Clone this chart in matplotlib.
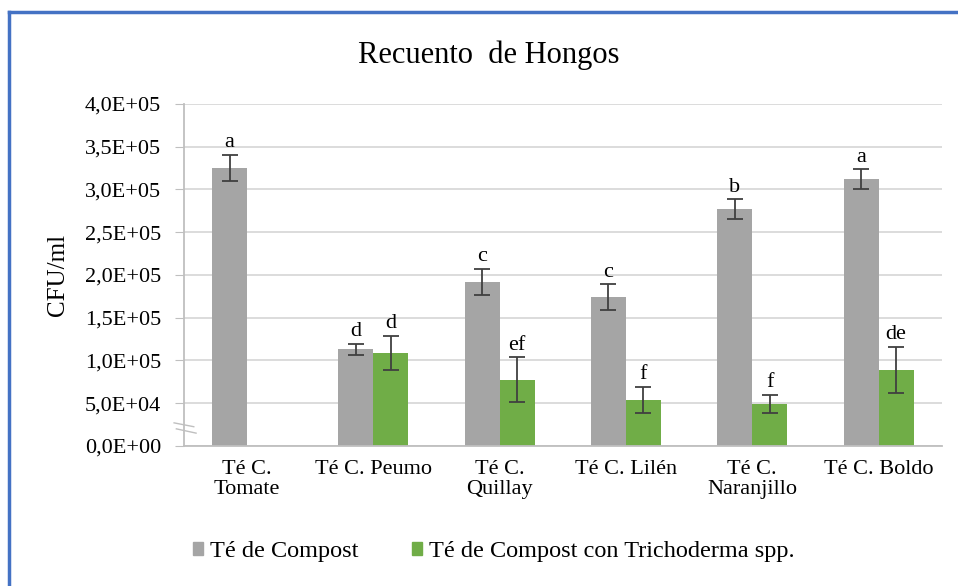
import numpy as np
import matplotlib
matplotlib.use("Agg")
import matplotlib.pyplot as plt
from matplotlib.patches import Rectangle

# data
categories = ["Té C.\nTomate", "Té C. Peumo", "Té C.\nQuillay", "Té C. Lilén",
              "Té C.\nNaranjillo", "Té C. Boldo"]
compost = [325500, 113000, 192000, 174000, 277000, 312000]
compost_err = [15000, 6500, 15000, 15000, 11500, 11500]
tricho = [np.nan, 108500, 77500, 54000, 49000, 89000]
tricho_err = [np.nan, 20000, 26000, 15000, 10500, 26500]
compost_letters = ["a", "d", "c", "c", "b", "a"]
tricho_letters = ["", "d", "ef", "f", "f", "de"]
yticks = np.arange(0, 400001, 50000)

plt.rcParams['font.family'] = ['Liberation Serif', 'DejaVu Serif']

fig = plt.figure(figsize=(9.58, 5.86), dpi=100)
ax = fig.add_axes([0.192, 0.239, 0.791, 0.5835])

x = np.arange(len(categories))
w = 0.277
gray = "#A5A5A5"
green = "#70AD47"

ax.bar(x - w / 2, compost, w, color=gray, zorder=2)
ax.bar(x + w / 2, tricho, w, color=green, zorder=2)
ekw = dict(fmt="none", ecolor="#404040", elinewidth=1.3, capsize=6, capthick=1.3, zorder=3)
ax.errorbar(x - w / 2, compost, yerr=compost_err, **ekw)
ax.errorbar(x + w / 2, tricho, yerr=tricho_err, **ekw)

for xi, v, e, lab in zip(x - w / 2, compost, compost_err, compost_letters):
    ax.annotate(lab, (xi, v + e), xytext=(0, 2), textcoords="offset points",
                ha="center", va="bottom", fontsize=16)
for xi, v, e, lab in zip(x + w / 2, tricho, tricho_err, tricho_letters):
    if lab:
        ax.annotate(lab, (xi, v + e), xytext=(0, 2), textcoords="offset points",
                    ha="center", va="bottom", fontsize=16)

ax.set_xlim(-0.5, len(categories) - 0.5)
ax.set_ylim(0, 400000)
ax.set_yticks(yticks)
ax.set_yticklabels([f"{v:.1E}".replace(".", ",") for v in yticks], fontsize=16)
ax.set_xticks(x)
ax.set_xticklabels(categories, fontsize=16, linespacing=1.1)
ax.tick_params(axis="x", length=0, pad=10)
ax.tick_params(axis="y", length=6.5, color="#BFBFBF", pad=10)
ax.grid(axis="y", color="#D9D9D9", lw=1.3, zorder=0)
for s in ["top", "right"]:
    ax.spines[s].set_visible(False)
ax.spines["left"].set_color("#BFBFBF")
ax.spines["bottom"].set_color("#BFBFBF")
ax.spines["left"].set_linewidth(1.3)
ax.spines["bottom"].set_linewidth(1.3)

# axis break marks
tr = ax.get_yaxis_transform()
ax.plot([-0.013, 0.013], [27000, 22500], transform=tr, color="#BFBFBF", lw=1, clip_on=False)
ax.plot([-0.010, 0.016], [20000, 15000], transform=tr, color="#BFBFBF", lw=1, clip_on=False)

ax.set_ylabel("CFU/ml", fontsize=18)
ax.yaxis.set_label_coords(-0.152, 0.5)
fig.text(0.51, 0.905, "Recuento  de Hongos", ha="center", va="center", fontsize=22)

handles = [Rectangle((0, 0), 1, 1, color=gray), Rectangle((0, 0), 1, 1, color=green)]
fig.legend(handles, ["Té de Compost", "Té de Compost con Trichoderma spp."],
           loc="center", bbox_to_anchor=(0.515, 0.059), ncol=2, frameon=False,
           fontsize=17.5, handlelength=0.45, handleheight=0.45, handletextpad=0.25,
           columnspacing=2.2)

# blue chart-area border (left and top)
fig.add_artist(plt.Line2D([0.009, 0.009], [0, 0.979], color="#4472C4", lw=2.5))
fig.add_artist(plt.Line2D([0.009, 1.0], [0.979, 0.979], color="#4472C4", lw=2.5))

plt.savefig("out.png", dpi=100)
